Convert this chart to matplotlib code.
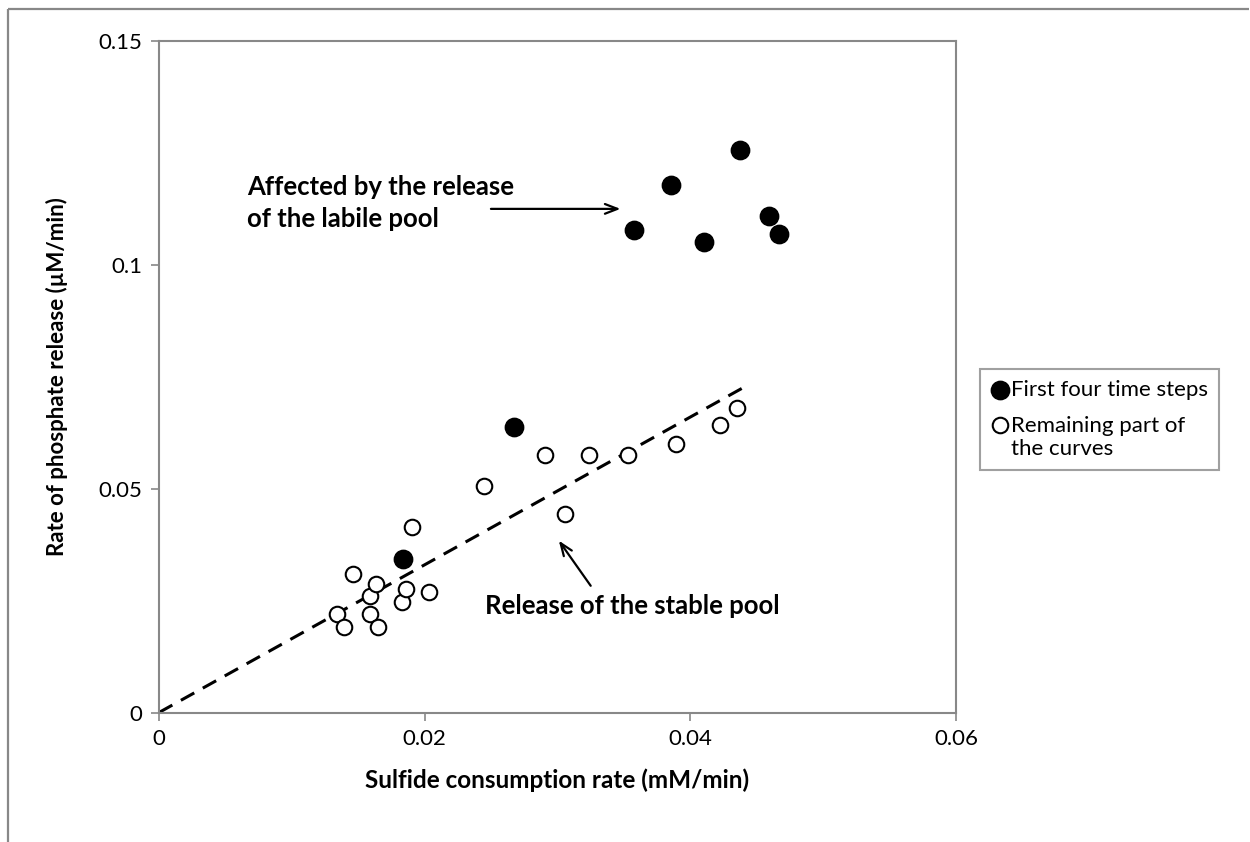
import matplotlib.pyplot as plt
from matplotlib.lines import Line2D
from matplotlib.legend_handler import HandlerPathCollection

plt.rcParams["font.family"] = ["Lato", "DejaVu Sans"]

# first four time steps of each curve
first_x = [0.01836, 0.02674, 0.03578, 0.03857, 0.04100, 0.04371, 0.04592, 0.04670]
first_y = [0.0342, 0.0637, 0.1078, 0.1178, 0.1050, 0.1257, 0.1108, 0.1069]

# remaining part of the curves
rest_x = [0.01338, 0.01394, 0.01459, 0.01589, 0.01589, 0.01630, 0.01647, 0.01828,
          0.01863, 0.01908, 0.02031, 0.02443, 0.02903, 0.03053, 0.03234, 0.03528,
          0.03892, 0.04221, 0.04352]
rest_y = [0.0221, 0.0191, 0.0309, 0.0261, 0.0219, 0.0287, 0.0191, 0.0247,
          0.0275, 0.0414, 0.0269, 0.0505, 0.0575, 0.0443, 0.0575, 0.0575,
          0.0600, 0.0643, 0.0680]

# linear fit through the origin
fit_slope = 1.65
fit_x = [0.0, 0.0439]

x_ticks = [0, 0.02, 0.04, 0.06]
x_labels = ["0", "0.02", "0.04", "0.06"]
y_ticks = [0, 0.05, 0.1, 0.15]
y_labels = ["0", "0.05", "0.1", "0.15"]

grey = "#888888"

fig = plt.figure(figsize=(12.5, 8.42), dpi=100)
ax = fig.add_axes([0.1272, 0.1538, 0.6376, 0.7975])

# chart area border (runs off the right and bottom edges)
top = 1 - 9 / 842
left = 8 / 1250
fig.add_artist(Line2D([left, 0.999], [top, top], transform=fig.transFigure,
                      color=grey, linewidth=1.6, solid_capstyle="butt"))
fig.add_artist(Line2D([left, left], [top, 0.0], transform=fig.transFigure,
                      color=grey, linewidth=1.6, solid_capstyle="butt"))

ax.plot(fit_x, [fit_slope * v for v in fit_x], color="black", linewidth=2.2,
        dashes=(5, 3.2), zorder=2)
rest = ax.scatter(rest_x, rest_y, s=125, facecolor="white", edgecolor="black",
                  linewidth=1.5, zorder=3)
first = ax.scatter(first_x, first_y, s=175, color="black", zorder=4)

ax.set_xlim(0, 0.06)
ax.set_ylim(0, 0.15)
ax.set_xticks(x_ticks)
ax.set_xticklabels(x_labels)
ax.set_yticks(y_ticks)
ax.set_yticklabels(y_labels)
ax.tick_params(direction="out", length=6, width=1.2, color=grey,
               labelsize=16, pad=6)
for sp in ax.spines.values():
    sp.set_color(grey)
    sp.set_linewidth(1.5)

ax.set_xlabel("Sulfide consumption rate (mM/min)", fontsize=17.5,
              fontweight="bold", labelpad=14)
ax.set_ylabel("Rate of phosphate release (\u00b5M/min)", fontsize=16,
              fontweight="bold", labelpad=22)

ax.annotate("", xy=(0.03495, 0.1125), xytext=(0.02478, 0.1125),
            arrowprops=dict(arrowstyle="->,head_length=0.9,head_width=0.35",
                            color="black", linewidth=1.6))
ax.text(0.00663, 0.1138, "Affected by the release\nof the labile pool",
        fontsize=18.5, fontweight="bold", ha="left", va="center",
        linespacing=1.4)

ax.annotate("", xy=(0.02998, 0.0389), xytext=(0.03262, 0.0278),
            arrowprops=dict(arrowstyle="->,head_length=0.9,head_width=0.35",
                            color="black", linewidth=1.6))
ax.text(0.02456, 0.02375, "Release of the stable pool", fontsize=18.5,
        fontweight="bold", ha="left", va="center")

leg = fig.legend([first, rest],
                 ["First four time steps", "Remaining part of\nthe curves"],
                 loc="lower left", bbox_to_anchor=(980 / 1250, 1 - 470 / 842),
                 fontsize=16, frameon=True, fancybox=False, handletextpad=0.1,
                 handlelength=0.8, borderpad=0.5, labelspacing=0.7,
                 borderaxespad=0, scatterpoints=1,
                 handler_map={rest: HandlerPathCollection(yoffsets=[1.3])})
leg.get_frame().set_edgecolor(grey)
leg.get_frame().set_linewidth(1.5)

fig.savefig("out.png", dpi=100)
